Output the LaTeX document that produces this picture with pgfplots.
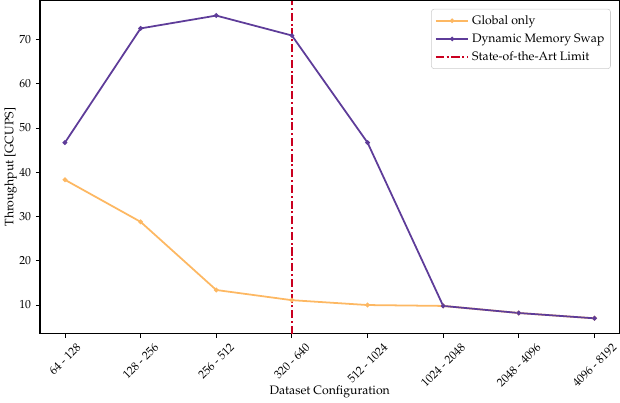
\documentclass[border=0pt]{standalone}
\usepackage[T1]{fontenc}
\usepackage{mathpazo}
\usepackage{graphicx}
\usepackage{pgfplots}
\pgfplotsset{compat=1.18}
\definecolor{gorange}{HTML}{FDB863}
\definecolor{dpurple}{HTML}{5E3C99}
\definecolor{sred}{HTML}{CA0020}
\newcommand{\rl}[1]{\rotatebox{45}{#1}}
\pgfplotsset{
  dotleg/.style={legend image code/.code={\draw[##1] (0pt,0pt) -- (24pt,0pt); \fill[##1, solid] (12pt,0pt) circle (0.9pt);}},
  lineleg/.style={legend image code/.code={\draw[##1] (0pt,0pt) -- (24pt,0pt);}},
}
\begin{document}
\begin{tikzpicture}
\begin{axis}[
  scale only axis,
  width=426pt, height=245pt,
  xmin=-0.33, xmax=7.33,
  ymin=3.5, ymax=78.8,
  xtick={0,1,2,3,4,5,6,7},
  xticklabels={\rl{64 - 128},\rl{128 - 256},\rl{256 - 512},\rl{320 - 640},\rl{512 - 1024},\rl{1024 - 2048},\rl{2048 - 4096},\rl{4096 - 8192}},
  x tick label style={anchor=north, inner sep=0pt, yshift=-3pt},
  ytick={10,20,30,40,50,60,70},
  tick align=outside,
  tick pos=left,
  major tick length=3pt,
  every tick/.style={black, line width=0.6pt},
  axis line style={black, line width=0.8pt},
  tick label style={font=\fontsize{8.6}{10}\selectfont},
  /pgf/number format/assume math mode=true,
  label style={font=\small},
  xlabel={Dataset Configuration},
  ylabel={Throughput [GCUPS]},
  ylabel style={yshift=-5pt},
  xlabel style={yshift=5pt},
  legend style={at={(0.985,0.975)}, anchor=north east, font=\small, draw=black!20, rounded corners=2pt, row sep=1.5pt, inner sep=2.5pt},
  legend cell align=left,
]
\addplot[color=gorange, line width=1.3pt, mark=*, mark size=1pt, dotleg] coordinates {
(0,38.3) (1,28.8) (2,13.4) (3,11.1) (4,10.0) (5,9.8) (6,8.2) (7,7.0)};
\addlegendentry{Global only}
\addplot[color=dpurple, line width=1.3pt, mark=*, mark size=1pt, dotleg] coordinates {
(0,46.7) (1,72.5) (2,75.4) (3,70.9) (4,46.7) (5,9.8) (6,8.2) (7,7.0)};
\addlegendentry{Dynamic Memory Swap}
\addplot[color=sred, line width=1.5pt, dash pattern=on 6pt off 2pt on 1.5pt off 2pt, lineleg] coordinates {(3,3.5) (3,78.8)};
\addlegendentry{State-of-the-Art Limit}
\end{axis}
\end{tikzpicture}
\end{document}
